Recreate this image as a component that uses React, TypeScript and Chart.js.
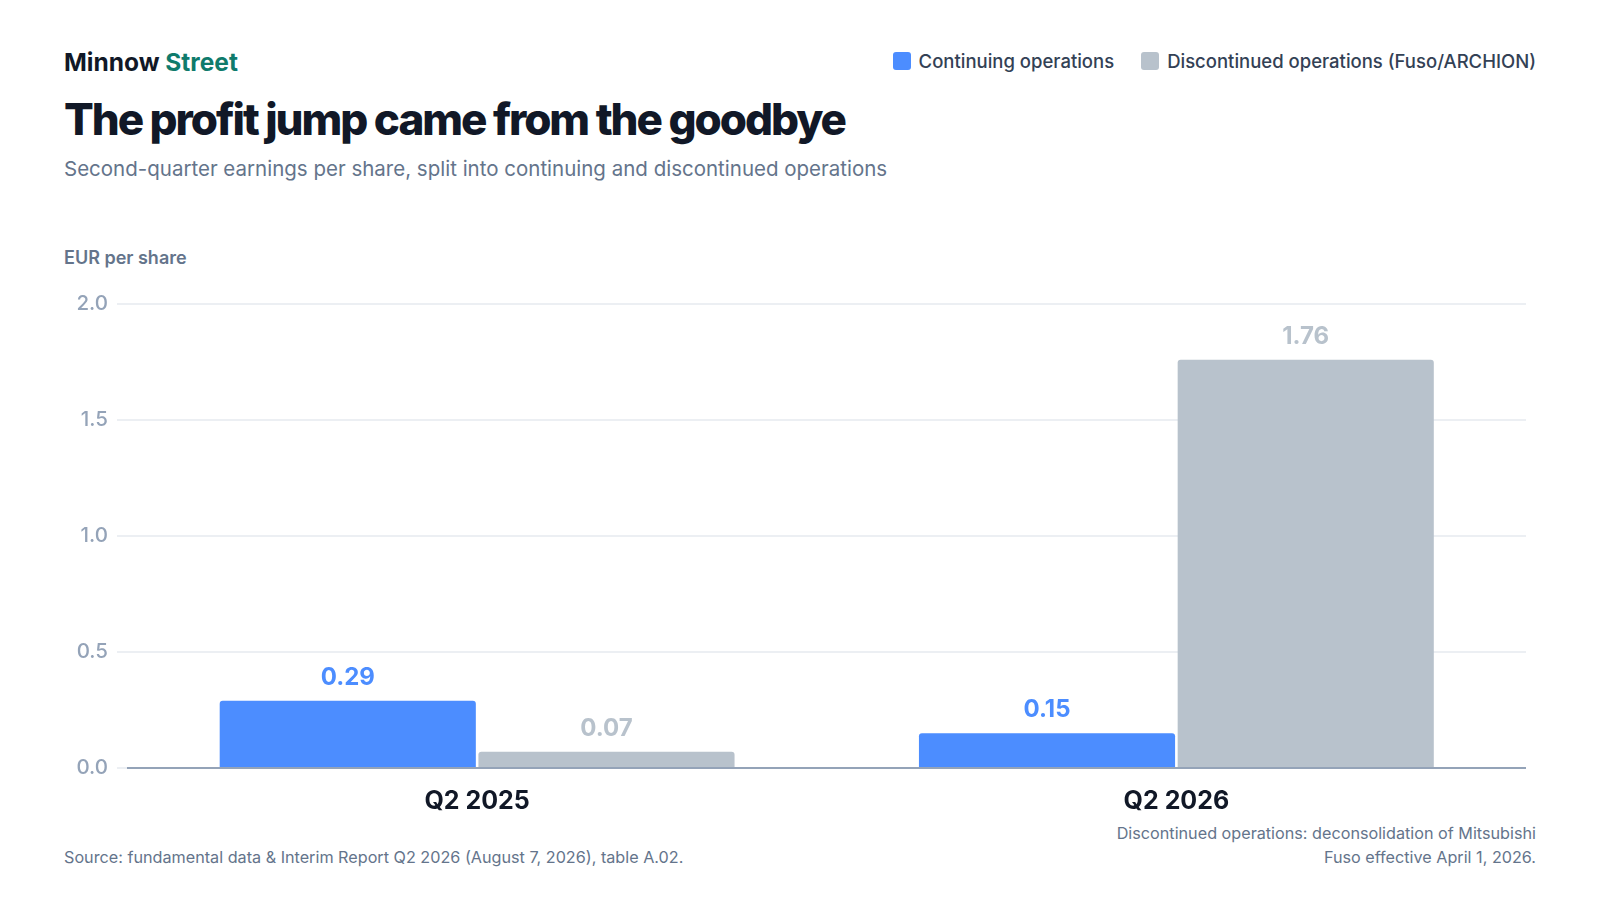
import Chart from 'chart.js/auto';
import { useEffect, useRef } from 'react';

const quarters = ['Q2 2025', 'Q2 2026'];
const continuingEps = [0.29, 0.15];
const discontinuedEps = [0.07, 1.76];
const seriesNames = ['Continuing operations', 'Discontinued operations (Fuso/ARCHION)'];
const seriesColors = ['#4c8dff', '#b8c2cc'];
const yTicks = [0, 0.5, 1.0, 1.5, 2.0];

const FONT = 'Inter, "Noto Sans", sans-serif';

// draws the value above each bar, same colour as the bar
const valueLabels = {
    id: 'valueLabels',
    afterDatasetsDraw(chart: any) {
        const ctx = chart.ctx;
        ctx.save();
        ctx.font = `700 24px ${FONT}`;
        ctx.textAlign = 'center';
        ctx.textBaseline = 'middle';
        chart.data.datasets.forEach((ds: any, i: number) => {
            const meta = chart.getDatasetMeta(i);
            meta.data.forEach((bar: any, j: number) => {
                ctx.fillStyle = ds.backgroundColor;
                ctx.fillText(ds.data[j].toFixed(2), bar.x, bar.y - 23);
            });
        });
        ctx.restore();
    }
};

export default function App() {
    const canvasRef = useRef<HTMLCanvasElement>(null);

    useEffect(() => {
        const canvas = canvasRef.current;
        if (!canvas) return;
        const barStyle = {
            borderRadius: { topLeft: 3, topRight: 3, bottomLeft: 0, bottomRight: 0 },
            borderSkipped: false,
            categoryPercentage: 0.74,
            barPercentage: 0.99
        };
        const chart = new Chart(canvas, {
            type: 'bar',
            data: {
                labels: quarters,
                datasets: [
                    { label: seriesNames[0], data: continuingEps, backgroundColor: seriesColors[0], ...barStyle },
                    { label: seriesNames[1], data: discontinuedEps, backgroundColor: seriesColors[1], ...barStyle }
                ]
            },
            options: {
                responsive: false,
                animation: false,
                layout: { padding: { top: 14, right: 0, left: 0, bottom: 0 } },
                plugins: {
                    legend: { display: false },
                    tooltip: { enabled: false }
                },
                scales: {
                    x: {
                        grid: { display: false, drawTicks: false },
                        border: { color: '#94a3b8', width: 2 },
                        ticks: {
                            color: '#111827',
                            font: { family: FONT, size: 25, weight: 700 },
                            padding: 18
                        },
                        afterFit: (scale: any) => {
                            scale.height = 48;
                            scale.paddingLeft = 0;
                            scale.paddingRight = 0;
                        }
                    },
                    y: {
                        min: 0,
                        max: 2,
                        afterBuildTicks: (scale: any) => {
                            scale.ticks = yTicks.map((v) => ({ value: v }));
                        },
                        grid: { color: '#eceff3', lineWidth: 2, tickLength: 10.5 },
                        border: { display: false },
                        ticks: {
                            color: '#94a3b8',
                            font: { family: FONT, size: 20.5, weight: 500 },
                            padding: 9,
                            callback: (v: any) => Number(v).toFixed(1)
                        },
                        // keep the plot box where the layout puts it
                        afterFit: (scale: any) => {
                            scale.width = 63.5;
                            scale.paddingTop = 0;
                            scale.paddingBottom = 0;
                        }
                    }
                }
            },
            plugins: [valueLabels]
        });
        return () => chart.destroy();
    }, []);

    return (
        <div style={{ position: 'absolute', left: 0, top: 0, width: 1600, height: 900, background: '#fff', fontFamily: FONT }}>
            <div style={{ position: 'absolute', left: 64, top: 46, fontSize: 24.5, fontWeight: 700, letterSpacing: 0, color: '#111827', lineHeight: '32px' }}>
                Minnow <span style={{ color: '#0f7b6c' }}>Street</span>
            </div>
            <div style={{ position: 'absolute', right: 64, top: 47, display: 'flex', gap: 27, fontSize: 18.5, fontWeight: 500, color: '#334155', lineHeight: '28px' }}>
                {seriesNames.map((name, i) => (
                    <div key={name} style={{ display: 'flex', alignItems: 'center', gap: 8 }}>
                        <span style={{ width: 18, height: 18, borderRadius: 3, background: seriesColors[i], display: 'inline-block' }} />
                        {name}
                    </div>
                ))}
            </div>
            <div style={{ position: 'absolute', left: 64, top: 91, fontSize: 44, fontWeight: 800, letterSpacing: -2.05, color: '#111827', lineHeight: '56px' }}>
                The profit jump came from the goodbye
            </div>
            <div style={{ position: 'absolute', left: 64, top: 155, fontSize: 20.5, fontWeight: 400, color: '#64748b', lineHeight: '28px' }}>
                Second-quarter earnings per share, split into continuing and discontinued operations
            </div>
            <div style={{ position: 'absolute', left: 64, top: 245, fontSize: 18, fontWeight: 600, color: '#64748b', lineHeight: '26px' }}>
                EUR per share
            </div>
            <canvas ref={canvasRef} width={1462} height={526} style={{ position: 'absolute', left: 64, top: 290, width: 1462, height: 526 }} />
            <div style={{ position: 'absolute', left: 64, top: 845, fontSize: 16.2, color: '#64748b', lineHeight: '24px' }}>
                Source: fundamental data &amp; Interim Report Q2 2026 (August 7, 2026), table A.02.
            </div>
            <div style={{ position: 'absolute', right: 64, top: 821, fontSize: 16.2, color: '#64748b', lineHeight: '24px', textAlign: 'right', width: 430 }}>
                Discontinued operations: deconsolidation of Mitsubishi Fuso effective April 1, 2026.
            </div>
        </div>
    );
}
